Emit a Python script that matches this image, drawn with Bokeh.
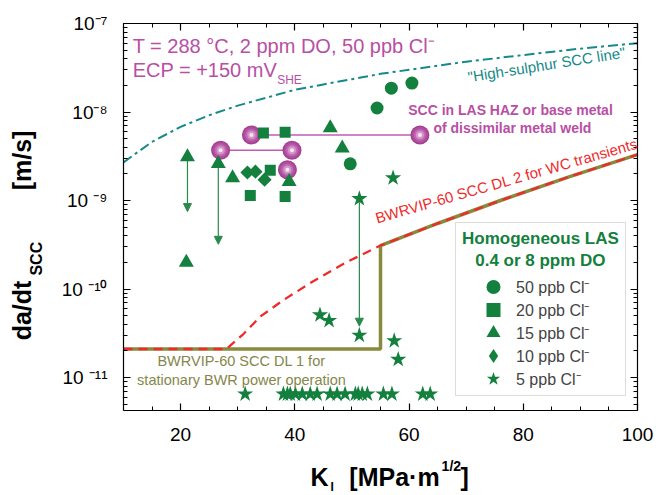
from math import pi
from bokeh.plotting import figure
from bokeh.models import (Range1d, LinearAxis, LogAxis, SingleIntervalTicker, LogTicker,
                          CustomJSTickFormatter, Label, Legend, LegendItem, Arrow,
                          NormalHead, ColumnDataSource, BoxAnnotation)
from bokeh.embed import file_html
from bokeh.resources import INLINE

# ---------------- data ----------------
x_tick_interval = 20

# Homogeneous LAS, by chloride level (K_I in MPa m^1/2, da/dt in m/s)
k_50ppb = [49.7, 54.4, 56.9, 60.5]
r_50ppb = [2.6e-9, 1.11e-8, 1.86e-8, 2.12e-8]

k_20ppb = [34.5, 38.3, 35.7, 32.2, 38.3]
r_20ppb = [5.8e-9, 5.9e-9, 2.2e-9, 1.14e-9, 1.11e-9]

k_15ppb = [21.2, 26.6, 29.1, 39.0, 46.2, 48.3, 21.0]
r_15ppb = [3.1e-9, 2.6e-9, 1.8e-9, 1.63e-9, 6.6e-9, 3.9e-9, 2.0e-10]

k_10ppb = [31.7, 33.1, 34.7]
r_10ppb = [2.07e-9, 2.12e-9, 1.72e-9]

k_5ppb = [57.2, 51.3, 44.4, 46.0, 51.3, 57.4, 58.1,
          31.3, 38.0, 38.7, 39.2, 40.1, 41.3, 42.7, 43.9, 46.2, 47.4,
          48.8, 50.6, 51.1, 51.8, 52.7, 55.5, 57.0, 62.4, 63.7]
r_5ppb = [1.8e-9, 1.05e-9, 5.1e-11, 4.4e-11, 3.0e-11, 2.6e-11, 1.6e-11,
          6.5e-12, 6.5e-12, 6.5e-12, 6.5e-12, 6.5e-12, 6.5e-12, 6.5e-12, 6.5e-12, 6.5e-12, 6.5e-12,
          6.5e-12, 6.5e-12, 6.5e-12, 6.5e-12, 6.5e-12, 6.5e-12, 6.5e-12, 6.5e-12, 6.5e-12]

# SCC in LAS HAZ / dissimilar metal weld
k_haz = [32.4, 61.9, 27.0, 39.5, 38.7]
r_haz = [5.5e-9, 5.5e-9, 3.7e-9, 3.7e-9, 2.23e-9]
haz_link_k0 = [32.4, 27.0]
haz_link_k1 = [61.9, 39.5]
haz_link_r = [5.5e-9, 3.7e-9]

# arrows (rate drops)
arrow_k = [21.2, 26.6, 51.3]
arrow_from = [3.1e-9, 2.6e-9, 1.05e-9]
arrow_to = [7.5e-10, 3.2e-10, 3.8e-11]

# "High-sulphur SCC line"
hs_k = [10, 15, 20, 25, 30, 35, 40, 45, 50, 55, 60, 70, 80, 90, 100]
hs_r = [2.7e-9, 4.6e-9, 6.8e-9, 9.2e-9, 1.18e-8, 1.45e-8, 1.78e-8, 2.05e-8,
        2.35e-8, 2.7e-8, 3.0e-8, 3.7e-8, 4.4e-8, 5.2e-8, 6.0e-8]

# BWRVIP-60 SCC DL 2
dl2_k = [10, 28, 31, 34, 38, 43, 49, 55, 65, 76, 88, 100]
dl2_r = [2.1e-11, 2.1e-11, 3.1e-11, 4.9e-11, 7.5e-11, 1.2e-10, 2.0e-10,
         3.1e-10, 5.5e-10, 1.0e-9, 1.85e-9, 3.3e-9]

# BWRVIP-60 SCC DL 1
dl1_k = [10, 55, 55, 65, 76, 88, 100]
dl1_r = [2.1e-11, 2.1e-11, 3.1e-10, 5.5e-10, 1.0e-9, 1.85e-9, 3.3e-9]

legend_labels = ["50 ppb Cl\u207b", "20 ppb Cl\u207b", "15 ppb Cl\u207b",
                 "10 ppb Cl\u207b", "5 ppb Cl\u207b"]

# ---------------- styling ----------------
FONT = "Liberation Sans"
GREEN = "#13803d"
MAGENTA = "#b84fa4"
TEAL = "#16898a"
RED = "#ee2b2b"
OLIVE = "#8a8a3e"
OLIVE_TXT = "#86864a"
NB = "\u00a0"

p = figure(frame_width=514, frame_height=387, y_axis_type="log",
           x_range=Range1d(10, 100), y_range=Range1d(4.24e-12, 1e-7),
           output_backend="svg", toolbar_location=None,
           min_border_left=123, min_border_right=19,
           min_border_top=23, min_border_bottom=85)
p.grid.visible = False
p.outline_line_color = None
p.background_fill_color = "white"
p.border_fill_color = "white"


def style_axis(ax):
    ax.axis_line_color = "black"
    ax.axis_line_width = 1.2
    ax.major_tick_in = 7
    ax.major_tick_out = 0
    ax.minor_tick_in = 4
    ax.minor_tick_out = 0
    ax.major_tick_line_color = "black"
    ax.minor_tick_line_color = "black"
    ax.major_tick_line_width = 1.2
    ax.minor_tick_line_width = 1


xa = p.xaxis[0]
xa.ticker = SingleIntervalTicker(interval=x_tick_interval, num_minor_ticks=4)
style_axis(xa)
xa.major_label_text_font = FONT
xa.major_label_text_font_size = "19px"
xa.major_label_text_color = "black"
xa.major_label_standoff = 17

ya = p.yaxis[0]
ya.ticker = LogTicker(num_minor_ticks=10)
style_axis(ya)
ya.formatter = CustomJSTickFormatter(code="""
const e = Math.round(Math.log10(tick));
const m = {"-": "\u207b", "0": "\u2070", "1": "\u00b9", "2": "\u00b2", "3": "\u00b3",
           "4": "\u2074", "5": "\u2075", "6": "\u2076", "7": "\u2077", "8": "\u2078", "9": "\u2079"};
let s = "";
for (const c of String(e)) { s += m[c]; }
return (e < -8 ? "10 " : "10") + s;
""")
ya.major_label_text_font = FONT
ya.major_label_text_font_size = "19px"
ya.major_label_text_color = "black"
ya.major_label_standoff = 16

top = LinearAxis(ticker=SingleIntervalTicker(interval=x_tick_interval, num_minor_ticks=4),
                 major_label_text_font_size="1px", major_label_text_color=None,
                 major_label_standoff=0)
style_axis(top)
p.add_layout(top, "above")
right = LogAxis(ticker=LogTicker(num_minor_ticks=10),
                major_label_text_font_size="1px", major_label_text_color=None,
                major_label_standoff=0)
style_axis(right)
p.add_layout(right, "right")

# ---------------- lines ----------------
p.line(hs_k, hs_r, line_color=TEAL, line_width=2, line_dash="10 4 3 4")
p.line(dl1_k, dl1_r, line_color=OLIVE, line_width=3.5)
p.line(dl2_k, dl2_r, line_color=RED, line_width=2.3, line_dash="9 6")

# arrows
arrow_src = ColumnDataSource(dict(x=arrow_k, y0=arrow_from, y1=arrow_to))
p.add_layout(Arrow(end=NormalHead(size=8, fill_color="#2a8a4e", line_color="#2a8a4e", line_width=1),
                   x_start="x", y_start="y0", x_end="x", y_end="y1", source=arrow_src,
                   line_color="#2a8a4e", line_width=1.2, level="underlay"))

# HAZ links and spheres
p.segment(haz_link_k0, haz_link_r, haz_link_k1, haz_link_r, line_color="#c25db3", line_width=1.5)
for sz, col in [(19, "#a4408f"), (16, "#b04f9f"), (12, "#c06ab2"), (8, "#d596c9"), (4, "#f6e6f2")]:
    p.scatter(k_haz, r_haz, marker="circle", size=sz, fill_color=col, line_color=None)

# LAS data
r50 = p.scatter(k_50ppb, r_50ppb, marker="circle", size=13, fill_color=GREEN, line_color=None)
r20 = p.scatter(k_20ppb, r_20ppb, marker="square", size=11, fill_color=GREEN, line_color=None)
r15 = p.scatter(k_15ppb, r_15ppb, marker="triangle", size=15, fill_color=GREEN, line_color=None)
r10 = p.scatter(k_10ppb, r_10ppb, marker="square", size=10, angle=pi / 4,
                fill_color=GREEN, line_color=None)
# same points, zero size: only supplies the diamond key in the legend
r10_key = p.scatter(k_10ppb, r_10ppb, marker="diamond", size=0, fill_color=GREEN, line_color=None)
r5 = p.scatter(k_5ppb, r_5ppb, marker="star", size=17, fill_color=GREEN, line_color=None)

# ---------------- legend ----------------
p.add_layout(BoxAnnotation(left=68.13, right=97.9, bottom=6.27e-12, top=5.64e-10,
                           fill_color="white", fill_alpha=1, line_color="#8a8a8a",
                           line_width=1))
for txt, yv in [("Homogeneous LAS", 3.72e-10), ("0.4 or 8 ppm DO", 2.10e-10)]:
    p.add_layout(Label(x=83.0, y=yv, text=txt, text_align="center", text_baseline="middle",
                       text_font=FONT, text_font_size="17px", text_font_style="bold",
                       text_color=GREEN))
key_renderers = [r50, r20, r15, r10_key, r5]
key_rows_from_bottom = [106, 83, 60, 37, 14]   # legend row placement (px above frame bottom)
for lbl, rend, ypos in zip(legend_labels, key_renderers, key_rows_from_bottom):
    p.add_layout(Legend(items=[LegendItem(label=lbl, renderers=[rend])],
                        location=(348, ypos), padding=0, margin=0, spacing=0,
                        glyph_width=44, glyph_height=35, label_standoff=1,
                        label_text_font=FONT, label_text_font_size="16px",
                        border_line_color=None, background_fill_alpha=0))

# ---------------- annotations ----------------
def lab(side="center", **kw):
    base = dict(text_font=FONT, text_baseline="middle")
    base.update(kw)
    p.add_layout(Label(**base), side)


lab(x=11.6, y=5.63e-8, text="T = 288 \u00b0C, 2 ppm DO, 50 ppb Cl\u207b", text_font_size="20px",
    text_color=MAGENTA)
lab(x=11.6, y=2.95e-8, text="ECP = +150 mV", text_font_size="20px", text_color=MAGENTA)
lab(x=36.9, y=2.27e-8, text="SHE", text_font_size="12px", text_color=MAGENTA)

lab(x=84.07, y=3.44e-8, text="\"High-sulphur SCC line\"", text_font_size="15px",
    text_color=TEAL, text_align="center", angle=0.157)
lab(x=77.76, y=1.04e-8, text="SCC in LAS HAZ or base metal", text_font_size="14px",
    text_font_style="bold", text_color=MAGENTA, text_align="center")
lab(x=78.1, y=6.52e-9, text="of dissimilar metal weld", text_font_size="14px",
    text_font_style="bold", text_color=MAGENTA, text_align="center")
lab(x=77.06, y=1.68e-9, text="BWRVIP-60 SCC DL 2 for WC transients", text_font_size="15px",
    text_color=RED, text_align="center", angle=0.28)
lab(x=30.66, y=1.52e-11, text="BWRVIP-60 SCC DL 1 for", text_font_size="14.5px",
    text_color=OLIVE_TXT, text_align="center")
lab(x=30.66, y=9.48e-12, text="stationary BWR power operation", text_font_size="14.5px",
    text_color=OLIVE_TXT, text_align="center")

# axis titles: placed in side panels (not clipped to the frame); spread over the
# panels so that the reserved border sizes stay within the figure's borders
lab("left", x=10, y=4.03e-10, x_offset=-102, text="da/dt" + NB * 13 + "[m/s]",
    text_font_size="25px", text_font_style="bold", text_align="center",
    angle=pi / 2, text_color="black")
lab("left", x=10, y=2.2e-10, x_offset=-87, text="SCC", text_font_size="16px",
    text_font_style="bold", text_align="center", angle=pi / 2, text_color="black")

lab("below", x=42.74, y=7.6e-13, text="K" + NB * 3 + "[MPa\u00b7m" + NB * 3 + "]",
    text_font_size="25px", text_font_style="bold", text_align="left", text_color="black")
lab("left", x=46.25, y=5.75e-13, text="I", text_font_size="12px", text_font_style="bold",
    text_align="left", text_color="black")
lab("above", x=65.7, y=9.9e-13, text="1/2", text_font_size="14px", text_font_style="bold",
    text_align="left", text_color="black")

open("out.html", "w").write(file_html(p, INLINE))
